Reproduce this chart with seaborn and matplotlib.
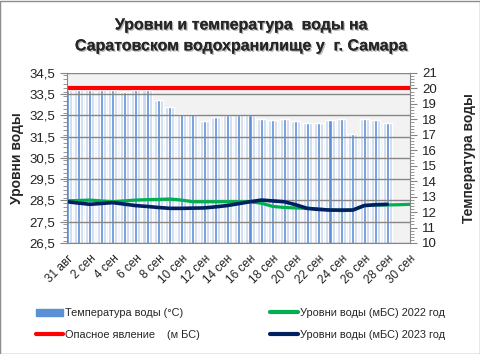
import matplotlib
matplotlib.use('Agg')
import matplotlib.pyplot as plt
import matplotlib.patheffects as pe
from matplotlib.ticker import MultipleLocator, FixedLocator, FuncFormatter
from matplotlib.patches import Patch
from matplotlib.lines import Line2D
import numpy as np
import seaborn as sns

sns.set_style('white')
plt.rcParams['font.family'] = ['Liberation Sans', 'DejaVu Sans']

# даты: 31 авг .. 30 сен
dates = ['31 авг'] + ['%d сен' % d for d in range(1, 31)]

# температура воды (°C), 31 авг .. 28 сен
temp = [19.9, 19.9, 19.9, 19.9, 19.9, 19.8, 19.9, 19.9, 19.25, 18.8,
        18.35, 18.35, 17.9, 18.15, 18.25, 18.25, 18.25, 18.05, 17.95, 18.05,
        17.9, 17.75, 17.75, 17.95, 18.05, 17.05, 18.05, 17.95, 17.75]

# уровни воды (мБС) 2022 год, 31 авг .. 30 сен
lvl_2022 = [28.49, 28.5, 28.52, 28.48, 28.44, 28.48, 28.52, 28.54, 28.55, 28.57,
            28.52, 28.44, 28.44, 28.44, 28.44, 28.44, 28.44, 28.37, 28.22, 28.17,
            28.15, 28.13, 28.1, 28.05, 28.02, 28.05, 28.27, 28.29, 28.29, 28.3, 28.32]

# уровни воды (мБС) 2023 год, 31 авг .. 28 сен
lvl_2023 = [28.44, 28.38, 28.32, 28.36, 28.4, 28.33, 28.26, 28.22, 28.17, 28.13,
            28.13, 28.14, 28.15, 28.2, 28.26, 28.35, 28.44, 28.52, 28.48, 28.44,
            28.3, 28.13, 28.08, 28.05, 28.05, 28.05, 28.26, 28.3, 28.32]

# опасное явление (мБС)
danger = [33.8] * len(dates)

grey = '#868686'

fig = plt.figure(figsize=(4.81, 3.54), dpi=100)
ax = fig.add_axes([0.1393, 0.3136, 0.7132, 0.4802])
ax2 = ax.twinx()
ax.set_zorder(ax2.get_zorder() + 1)
ax.patch.set_visible(False)
ax2.patch.set_visible(True)
ax2.patch.set_facecolor('#f2f2f2')

# столбцы температуры
ax2.grid(axis='x', color=grey, lw=1)
ax2.set_axisbelow(True)
sns.barplot(x=dates[:len(temp)], y=temp, order=dates, color='#c9d8ee', width=0.8,
            saturation=1, ax=ax2)
sns.barplot(x=dates[:len(temp)], y=temp, order=dates, color='#5b8fd6', width=0.27,
            saturation=1, ax=ax2)

# линии уровней
ax.grid(axis='y', color=grey, lw=1)
sns.lineplot(x=np.arange(len(lvl_2022)), y=lvl_2022, color='#00b050', lw=2.3, ax=ax)
sns.lineplot(x=np.arange(len(lvl_2023)), y=lvl_2023, color='#002060', lw=2.6, ax=ax)
sns.lineplot(x=np.arange(len(danger)), y=danger, color='#ff0000', lw=3, ax=ax)

ax.set_xlim(0, len(dates) - 1)
ax.set_ylim(26.5, 34.5)
ax.yaxis.set_major_locator(FixedLocator(np.arange(26.5, 34.6, 1)))
ax.yaxis.set_minor_locator(MultipleLocator(0.2))
ax.yaxis.set_major_formatter(FuncFormatter(lambda v, p: ('%.1f' % v).replace('.', ',')))
ax2.set_ylim(10, 21)
ax2.yaxis.set_major_locator(MultipleLocator(1))
ax2.yaxis.set_minor_locator(MultipleLocator(0.2))

ax.set_xticks(np.arange(len(dates)))
ax.set_xticklabels([d if i % 2 == 0 else '' for i, d in enumerate(dates)],
                   rotation=45, ha='right', rotation_mode='anchor', fontsize=8.5)
ax2.set_xlabel('')

for a in (ax, ax2):
    for s in a.spines.values():
        s.set_visible(False)
    a.tick_params(which='both', direction='out', color=grey, labelsize=9.5,
                  labelcolor='#222222')
    a.tick_params(which='major', length=5)
    a.tick_params(which='minor', length=3)
ax.spines['left'].set_visible(True)
ax.spines['left'].set_color(grey)
ax.spines['bottom'].set_visible(True)
ax.spines['bottom'].set_color(grey)
ax2.spines['right'].set_visible(True)
ax2.spines['right'].set_color(grey)
ax.tick_params(axis='x', labelsize=8.5, pad=2)

ax.set_ylabel('Уровни воды', fontsize=10, fontweight='bold', labelpad=4)
ax2.set_ylabel('Температура воды', fontsize=10, fontweight='bold', labelpad=18,
               rotation=90)

title = fig.text(0.503, 0.9, 'Уровни и температура  воды на\nСаратовском водохранилище у  г. Самара',
                 ha='center', va='center', fontsize=11.5, fontweight='bold',
                 linespacing=1.5)
title.set_path_effects([pe.withSimplePatchShadow(offset=(1, -1), shadow_rgbFace='#999999',
                                                 alpha=0.7), pe.Normal()])

handles = [Patch(color='#5b8fd6'),
           Line2D([], [], color='#ff0000', lw=3),
           Line2D([], [], color='#00b050', lw=3),
           Line2D([], [], color='#002060', lw=3)]
labels = ['Температура воды (°C)', 'Опасное явление    (м БС)',
          'Уровни воды (мБС) 2022 год', 'Уровни воды (мБС) 2023 год']
fig.legend(handles, labels, ncol=2, loc='center', bbox_to_anchor=(0.5, 0.084),
           frameon=False, fontsize=7.9, handlelength=2.5, handletextpad=0.2,
           columnspacing=6.4, labelspacing=1.1)

fig.add_artist(plt.Rectangle((0.001, 0.001), 0.997, 0.996, transform=fig.transFigure,
                             fill=False, ec='#8c8c8c', lw=1))

fig.savefig('out.png', dpi=100)
